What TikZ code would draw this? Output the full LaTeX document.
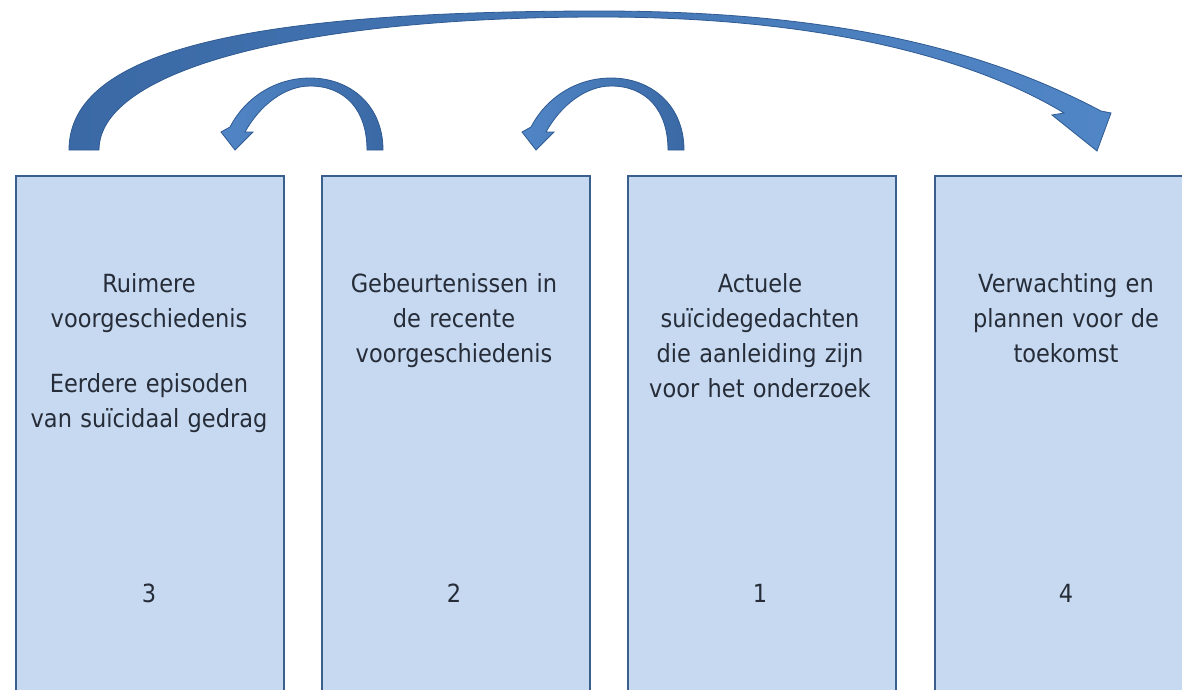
\documentclass[tikz,border=0pt]{standalone}
\usepackage{fontspec}
\setmainfont{DejaVu Sans}[FakeStretch=0.9]
\definecolor{boxfill}{HTML}{C6D9F1}
\definecolor{boxline}{HTML}{3A5F8C}
\definecolor{txtcol}{HTML}{262D38}
\definecolor{arrdark}{HTML}{3A69A5}
\definecolor{arrlight}{HTML}{5186C6}
\definecolor{arrline}{HTML}{2F5A92}
\begin{document}
\begin{tikzpicture}[x=1pt,y=-1pt,
  stagebox/.style={draw=boxline, line width=2pt, fill=boxfill, rectangle, inner sep=0pt,
    minimum width=268pt, minimum height=540pt, anchor=north west},
  stagetext/.style={text=txtcol, font=\fontsize{25}{35}\selectfont, text width=266pt,
    align=center, anchor=base, inner sep=0pt},
  stagenum/.style={text=txtcol, font=\fontsize{25}{35}\selectfont, anchor=base, inner sep=0pt},
  blockarrow/.style={draw=arrline, line width=0.8pt, line join=miter}
]
\useasboundingbox (0,0) rectangle (1182,689);
\clip (0,0) rectangle (1182,689);

% boxes
\node[stagebox] (b1) at (15,175) {};
\node[stagebox] (b2) at (321,175) {};
\node[stagebox] (b3) at (627,175) {};
\node[stagebox, minimum width=300pt] (b4) at (934,175) {};

% texts
\node[stagetext] (t1) at (149,292) {Ruimere\\voorgeschiedenis\\[30pt]Eerdere episoden\\van suïcidaal gedrag};
\node[stagetext] (t2) at (454,292) {Gebeurtenissen in\\de recente\\voorgeschiedenis};
\node[stagetext] (t3) at (760,292) {Actuele\\suïcidegedachten\\die aanleiding zijn\\voor het onderzoek};
\node[stagetext] (t4) at (1066,292) {Verwachting en\\plannen voor de\\toekomst};

% numbers
\node[stagenum] (n1) at (149,602) {3};
\node[stagenum] (n2) at (454,602) {2};
\node[stagenum] (n3) at (760,602) {1};
\node[stagenum] (n4) at (1066,602) {4};

% big arrow (from box 1 to box 4)
\path[blockarrow, left color=arrdark, right color=arrlight]
  (69,150) .. controls (69,50) and (250,11) .. (600,11)
  .. controls (850,11) and (995,55) .. (1101,111)
  -- (1111,113) -- (1097,151) -- (1052,115) -- (1064,113)
  .. controls (985,65) and (840,17) .. (600,17)
  .. controls (300,17) and (99,70) .. (99,150) -- cycle;

% small arrow (box 2 -> box 1)
\path[blockarrow, left color=arrlight, right color=arrdark]
  (383,150) .. controls (383,105) and (350,78) .. (310,78)
  .. controls (275,78) and (245,98) .. (230,127)
  -- (221,132) -- (235,150) -- (253,132) -- (245,132)
  .. controls (260,105) and (285,86) .. (310,86)
  .. controls (345,86) and (367,110) .. (367,150) -- cycle;

% small arrow (box 3 -> box 2)
\begin{scope}[xshift=301pt]
\path[blockarrow, left color=arrlight, right color=arrdark]
  (383,150) .. controls (383,105) and (350,78) .. (310,78)
  .. controls (275,78) and (245,98) .. (230,127)
  -- (221,132) -- (235,150) -- (253,132) -- (245,132)
  .. controls (260,105) and (285,86) .. (310,86)
  .. controls (345,86) and (367,110) .. (367,150) -- cycle;
\end{scope}
\end{tikzpicture}
\end{document}
